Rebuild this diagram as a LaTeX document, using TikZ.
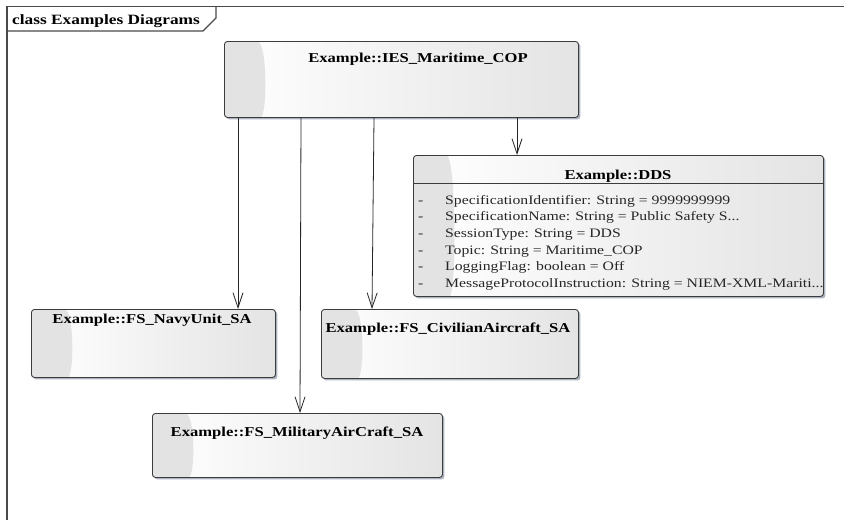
\documentclass[tikz,border=0pt]{standalone}
\usepackage{fontspec}
\newfontfamily\umlfont[FakeStretch=1.22]{Liberation Serif}
\usetikzlibrary{arrows.meta,shadows}

\definecolor{boxedge}{HTML}{3C3C3C}
\definecolor{boxshade}{HTML}{E3E3E3}
\definecolor{boxend}{HTML}{E4E4E4}
\definecolor{shadowc}{HTML}{AEB3C2}
\definecolor{framec}{HTML}{4A4A4A}

\tikzset{
  classbox/.style={draw=boxedge, line width=0.9pt, rounded corners=3pt,
    anchor=north west, inner sep=0pt,
    left color=white, right color=boxend,
    drop shadow={shadow xshift=2pt, shadow yshift=-2pt, fill=shadowc, opacity=1},
    path picture={
      \fill[boxshade] (path picture bounding box.north west)
        -- ([xshift=30pt]path picture bounding box.north west)
        .. controls ([xshift=43pt]path picture bounding box.north west)
        and ([xshift=43pt]path picture bounding box.south west)
        .. ([xshift=33pt]path picture bounding box.south west)
        -- (path picture bounding box.south west) -- cycle;}},
  classtitle/.style={font={\umlfont\bfseries\fontsize{13.6pt}{16pt}\selectfont},
    inner sep=0pt, anchor=base},
  attr/.style={font={\umlfont\fontsize{12.9pt}{15pt}\selectfont},
    inner sep=0pt, anchor=base west, text=black!85},
  frameline/.style={draw=framec, line width=1.3pt},
  assoc/.style={draw=black!85, line width=0.8pt,
    -{Straight Barb[length=15pt, width=10pt, line width=0.8pt]}}
}

\begin{document}
\begin{tikzpicture}[x=1pt, y=-1pt]
\useasboundingbox (0,0) rectangle (844,520);

% diagram frame with its name tab
\draw[frameline] (7,520) -- (7,6.5) -- (844,6.5);
\draw[frameline] (7,31) -- (203,31) -- (216,18) -- (216,6.5);
\node[classtitle, anchor=base west, font={\umlfont\bfseries\fontsize{14.2pt}{16pt}\selectfont}] (frametitle) at (12,24) {class Examples Diagrams};

% classes
\node[classbox, minimum width=354pt, minimum height=76pt] (ies) at (224,41) {};
\node[classtitle] (iestitle) at (418,62) {Example::IES\_Maritime\_COP};

\node[classbox, minimum width=410pt, minimum height=141pt] (dds) at (413,155) {};
\node[classtitle] (ddstitle) at (618,179.5) {Example::DDS};
\draw[draw=boxedge, line width=0.9pt] ([yshift=-28pt]dds.north west) -- ([yshift=-28pt]dds.north east);

\foreach \i/\txt in {0/{SpecificationIdentifier: String = 9999999999},
                     1/{SpecificationName: String = Public Safety S...},
                     2/{SessionType: String = DDS},
                     3/{Topic: String = Maritime\_COP},
                     4/{LoggingFlag: boolean = Off},
                     5/{MessageProtocolInstruction: String = NIEM-XML-Mariti...}}{
  \node[attr] (dash\i) at (418,204.3+16.6*\i) {-};
  \node[attr] (attr\i) at (445,204.3+16.6*\i) {\txt};
}

\node[classbox, minimum width=244pt, minimum height=68pt] (navy) at (31,309) {};
\node[classtitle] (navytitle) at (152,323) {Example::FS\_NavyUnit\_SA};

\node[classbox, minimum width=257pt, minimum height=69pt] (civ) at (321,309) {};
\node[classtitle] (civtitle) at (448,332) {Example::FS\_CivilianAircraft\_SA};

\node[classbox, minimum width=290pt, minimum height=64pt] (mil) at (152,413) {};
\node[classtitle] (miltitle) at (297,436) {Example::FS\_MilitaryAirCraft\_SA};

% associations
\draw[assoc] ([xshift=14pt]ies.south west) -- ([xshift=207pt]navy.north west);
\draw[assoc] ([xshift=77pt]ies.south west) -- ([xshift=148pt]mil.north west);
\draw[assoc] ([xshift=150pt]ies.south west) -- ([xshift=51pt]civ.north west);
\draw[assoc] ([xshift=293pt]ies.south west) -- ([xshift=104pt]dds.north west);
\end{tikzpicture}
\end{document}
